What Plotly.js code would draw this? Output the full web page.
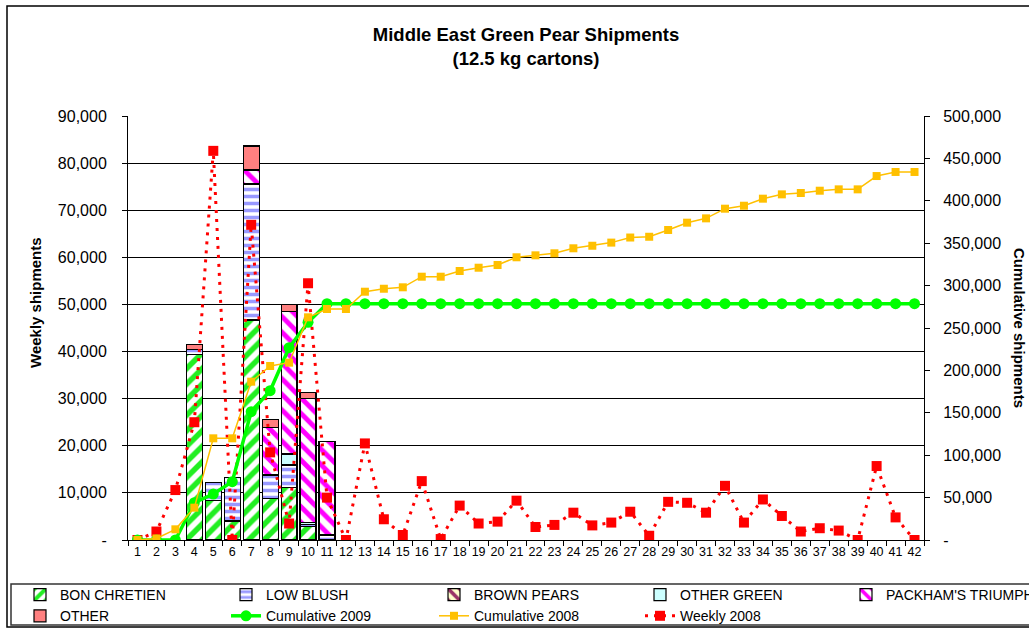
<!DOCTYPE html>
<html><head><meta charset="utf-8">
<script src="https://cdn.plot.ly/plotly-3.0.1.min.js"></script>
<style>html,body{margin:0;padding:0;background:#fff}#chart{width:1029px;height:631px}</style>
</head><body><div id="chart"></div><script>
// ---- data ----
const weeks = ['1','2','3','4','5','6','7','8','9','10','11','12','13','14','15','16','17','18','19','20','21',
  '22','23','24','25','26','27','28','29','30','31','32','33','34','35','36','37','38','39','40','41','42'];
const barWeeks = ['4','5','6','7','8','9','10','11'];
const bonChretien = [39400, 8350, 4030, 46700, 8850, 11200, 2830, null];
const lowBlush    = [1100, 3900, 9200, 28700, 4950, 4700, 500, 1060];
const brownPears  = [null, null, null, 300, null, null, null, null];
const otherGreen  = [null, null, null, null, null, 2350, 350, null];
const packham     = [null, null, null, 2850, 10050, 30250, 26400, 19800];
const other       = [1000, null, null, 5100, 1750, 1550, 1270, null];
const cum2009 = [0, 0, 0, 44000, 54200, 68800, 151300, 176100, 226800, 256700, 278700, 278700, 278700, 278700,
  278700, 278700, 278700, 278700, 278700, 278700, 278700, 278700, 278700, 278700, 278700, 278700, 278700, 278700,
  278700, 278700, 278700, 278700, 278700, 278700, 278700, 278700, 278700, 278700, 278700, 278700, 278700, 278700];
const cum2008 = [0, 1800, 12600, 38100, 119900, 119900, 186700, 205200, 209100, 262600, 272400, 272400, 292800,
  296300, 298000, 310500, 310500, 317200, 321100, 324300, 333400, 335700, 338100, 344000, 347000, 350700, 356700,
  357600, 365600, 374200, 379300, 390700, 394200, 402500, 407600, 409200, 411900, 413500, 413500, 429200, 434000, 434000];
const weekly2008 = [0, 1800, 10600, 25000, 82600, 0, 66900, 18600, 3500, 54500, 9000, 0, 20500, 4400, 1060, 12500,
  200, 7300, 3500, 3900, 8350, 2760, 3200, 5800, 3100, 3700, 6000, 900, 8100, 7900, 5800, 11500, 3700, 8600, 5100,
  1800, 2500, 2000, 0, 15700, 4800, 0];
const leftTicks = [0, 10000, 20000, 30000, 40000, 50000, 60000, 70000, 80000, 90000];
const leftTickText = ['-', '10,000', '20,000', '30,000', '40,000', '50,000', '60,000', '70,000', '80,000', '90,000'];
const rightTicks = [0, 50000, 100000, 150000, 200000, 250000, 300000, 350000, 400000, 450000, 500000];
const rightTickText = ['-', '50,000', '100,000', '150,000', '200,000', '250,000', '300,000', '350,000', '400,000', '450,000', '500,000'];

// ---- helpers ----
const W = 1029, H = 631, L = 128, R = 105, T = 116, B = 91;
const PW = W - L - R, PH = H - T - B;
const px = v => (v - L) / PW;
const py = v => (H - B - v) / PH;
const FONT = 'Arial, "Liberation Sans", sans-serif';
const outline = {color: '#000', width: 1.2};

function barTrace(name, y, pattern, color, legend) {
  return {type: 'bar', name: name, x: barWeeks, y: y, legend: legend,
    marker: {color: color, line: outline, pattern: pattern}, hoverinfo: 'skip'};
}

const traces = [
  barTrace('BON CHRETIEN', bonChretien, {shape: '/', fgcolor: '#22EE22', bgcolor: '#ffffff', size: 11, solidity: 0.5, fillmode: 'replace'}, '#ffffff', 'legend'),
  barTrace('LOW BLUSH', lowBlush, {shape: '-', fgcolor: '#9999FF', bgcolor: '#ffffff', size: 7, solidity: 0.5, fillmode: 'replace'}, '#ffffff', 'legend2'),
  barTrace('BROWN PEARS', brownPears, {shape: '\\', fgcolor: '#993366', bgcolor: '#FFFFCC', size: 10, solidity: 0.45, fillmode: 'replace'}, '#FFFFCC', 'legend3'),
  barTrace('OTHER GREEN', otherGreen, {shape: ''}, '#CCFFFF', 'legend4'),
  barTrace("PACKHAM'S TRIUMPH", packham, {shape: '\\', fgcolor: '#FF00FF', bgcolor: '#ffffff', size: 11, solidity: 0.45, fillmode: 'replace'}, '#ffffff', 'legend5'),
  barTrace('OTHER', other, {shape: ''}, '#FF8080', 'legend'),
  {type: 'scatter', mode: 'lines+markers', name: 'Cumulative 2009', x: weeks, y: cum2009, yaxis: 'y2', legend: 'legend2',
    line: {color: '#00FF00', width: 3.5}, marker: {symbol: 'circle', size: 11, color: '#00FF00'}, hoverinfo: 'skip'},
  {type: 'scatter', mode: 'lines+markers', name: 'Cumulative 2008', x: weeks, y: cum2008, yaxis: 'y2', legend: 'legend3',
    line: {color: '#FFC000', width: 1.5}, marker: {symbol: 'square', size: 8, color: '#FFC000'}, hoverinfo: 'skip'},
  {type: 'scatter', mode: 'lines+markers', name: 'Weekly 2008', x: weeks, y: weekly2008, legend: 'legend4',
    line: {color: '#FF0000', width: 3, dash: '3px,6px'}, marker: {symbol: 'square', size: 10, color: '#FF0000'}, hoverinfo: 'skip'}
];

function legendAt(pxX) {
  return {x: px(pxX), xanchor: 'left', y: py(579), yanchor: 'top', orientation: 'v',
    bgcolor: 'rgba(0,0,0,0)', borderwidth: 0, font: {family: FONT, size: 14, color: '#000'},
    itemwidth: 30, tracegroupgap: 0, traceorder: 'normal'};
}

const layout = {
  width: W, height: H,
  margin: {l: L, r: R, t: T, b: B, pad: 0, autoexpand: false},
  paper_bgcolor: '#fff', plot_bgcolor: '#fff',
  font: {family: FONT, color: '#000'},
  title: {text: '<b>Middle East Green Pear Shipments<br>(12.5 kg cartons)</b>', font: {family: FONT, size: 18.5, color: '#000'},
    xref: 'paper', x: 0.5, xanchor: 'center', yref: 'container', y: 1 - 41 / H, yanchor: 'top'},
  barmode: 'stack', bargap: 0.16,
  showlegend: true,
  legend: legendAt(20),
  legend2: legendAt(226),
  legend3: legendAt(434),
  legend4: legendAt(640),
  legend5: legendAt(846),
  xaxis: {type: 'category', categoryorder: 'array', categoryarray: weeks, range: [-0.5, 41.5], tickson: 'boundaries',
    ticks: 'outside', ticklen: 5, tickcolor: '#000', showline: true, linecolor: '#000', linewidth: 1,
    showgrid: false, zeroline: false, tickfont: {family: FONT, size: 12.5, color: '#000'}, tickangle: 0, fixedrange: true},
  yaxis: {range: [0, 90000], tickmode: 'array', tickvals: leftTicks, ticktext: leftTickText,
    ticks: 'outside', ticklen: 5, tickcolor: '#000', showline: true, linecolor: '#000', linewidth: 1,
    showgrid: true, gridcolor: '#000', gridwidth: 1, zeroline: false, ticklabelstandoff: 12,
    tickfont: {family: FONT, size: 16, color: '#000'}, fixedrange: true},
  yaxis2: {overlaying: 'y', side: 'right', range: [0, 500000], tickmode: 'array', tickvals: rightTicks, ticktext: rightTickText,
    ticks: 'outside', ticklen: 5, tickcolor: '#000', showline: true, linecolor: '#000', linewidth: 1,
    showgrid: false, zeroline: false, ticklabelstandoff: 10,
    tickfont: {family: FONT, size: 16, color: '#000'}, fixedrange: true},
  annotations: [
    {text: '<b>Weekly shipments</b>', xref: 'paper', yref: 'paper', x: px(35), y: py(303), textangle: -90,
      showarrow: false, font: {family: FONT, size: 15, color: '#000'}, xanchor: 'center', yanchor: 'middle'},
    {text: '<b>Cumulative shipments</b>', xref: 'paper', yref: 'paper', x: px(1020), y: py(328), textangle: 90,
      showarrow: false, font: {family: FONT, size: 15, color: '#000'}, xanchor: 'center', yanchor: 'middle'}
  ],
  shapes: [
    {type: 'rect', xref: 'paper', yref: 'paper', x0: px(7), x1: px(1040), y0: py(627), y1: py(6),
      line: {color: '#000', width: 1.5}, fillcolor: 'rgba(0,0,0,0)', layer: 'below'},
    {type: 'rect', xref: 'paper', yref: 'paper', x0: px(11), x1: px(1040), y0: py(625), y1: py(584),
      line: {color: '#333', width: 1.5}, fillcolor: 'rgba(0,0,0,0)', layer: 'below'}
  ]
};

Plotly.newPlot('chart', traces, layout, {displayModeBar: false, staticPlot: true});
</script></body></html>
